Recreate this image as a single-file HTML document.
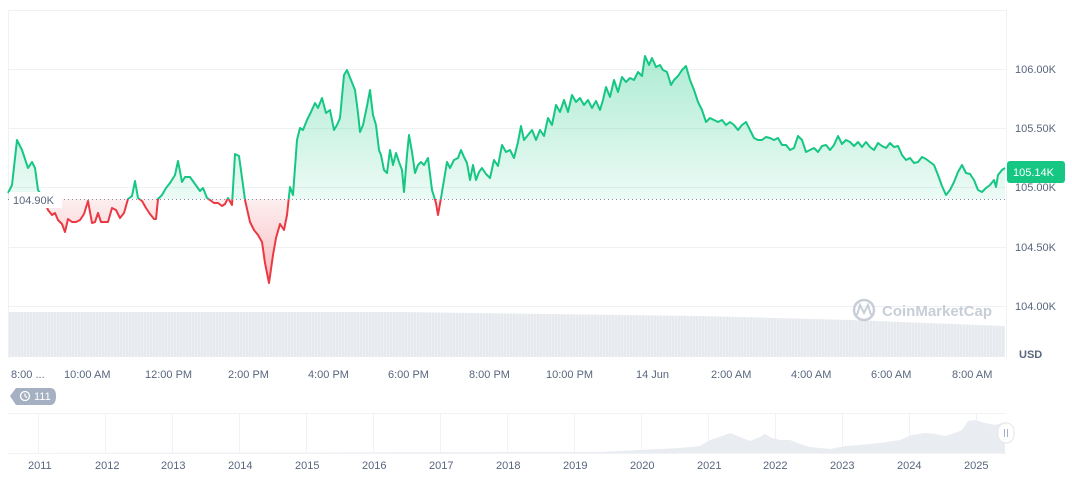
<!DOCTYPE html>
<html><head><meta charset="utf-8"><style>
body{margin:0;background:#fff;width:1072px;height:477px;overflow:hidden;font-family:"Liberation Sans",sans-serif}
svg{position:absolute;left:0;top:0}
</style></head><body>
<svg width="1072" height="477" xmlns="http://www.w3.org/2000/svg" font-family="Liberation Sans, sans-serif">
<defs>
<linearGradient id="gg" x1="0" y1="55" x2="0" y2="199" gradientUnits="userSpaceOnUse"><stop offset="0" stop-color="#16c784" stop-opacity="0.35"/><stop offset="1" stop-color="#16c784" stop-opacity="0.08"/></linearGradient>
<linearGradient id="rg" x1="0" y1="199" x2="0" y2="285" gradientUnits="userSpaceOnUse"><stop offset="0" stop-color="#ea3943" stop-opacity="0.08"/><stop offset="1" stop-color="#ea3943" stop-opacity="0.35"/></linearGradient>
<clipPath id="above"><rect x="0" y="0" width="1072" height="199"/></clipPath>
<clipPath id="below"><rect x="0" y="199" width="1072" height="200"/></clipPath>
<pattern id="vp" width="3" height="10" patternUnits="userSpaceOnUse"><rect width="2" height="10" fill="#e6e9ee"/><rect x="2" width="1" height="10" fill="#eef0f3"/></pattern>
</defs>
<g stroke="#eff2f5" stroke-width="1">
<line x1="8" y1="10.5" x2="1006" y2="10.5"/>
<line x1="8" y1="69.5" x2="1006" y2="69.5"/>
<line x1="8" y1="128.5" x2="1006" y2="128.5"/>
<line x1="8" y1="187.5" x2="1006" y2="187.5"/>
<line x1="8" y1="247.5" x2="1006" y2="247.5"/>
<line x1="8" y1="306.5" x2="1006" y2="306.5"/>
<line x1="8.5" y1="10" x2="8.5" y2="358"/>
<line x1="1006.5" y1="10" x2="1006.5" y2="358"/>
</g>
<polygon points="8,312 400,312 700,316 850,320 1005,326 1005,357 8,357" fill="url(#vp)"/>
<g id="ch"></g>
<line x1="8" y1="199.5" x2="1006" y2="199.5" stroke="#858ca2" stroke-dasharray="1,3" stroke-width="1"/>
<rect x="9" y="192" width="53" height="16" fill="#fff"/>
<text x="13" y="204" font-size="11" fill="#58667e">104.90K</text>
<g font-size="11" fill="#58667e">
<text x="1015" y="73">106.00K</text>
<text x="1015" y="132">105.50K</text>
<text x="1015" y="191">105.00K</text>
<text x="1015" y="251">104.50K</text>
<text x="1015" y="310">104.00K</text>
</g>
<rect x="1007" y="161" width="58" height="22" rx="3" fill="#16c784"/>
<text x="1013" y="176" font-size="11" fill="#fff">105.14K</text>
<text x="1019" y="358" font-size="11" font-weight="bold" fill="#58667e">USD</text>
<g fill="#c3c9d4" opacity="0.9"><circle cx="864" cy="310" r="10" fill="none" stroke="#c3c9d4" stroke-width="2.5"/><path d="M857 315 L860 305 L864 313 L868 305 L871 315" fill="none" stroke="#c3c9d4" stroke-width="2"/><text x="882" y="316" font-size="15" font-weight="bold">CoinMarketCap</text></g>
<g font-size="11" fill="#58667e">
<text x="11" y="378">8:00 ...</text>
<text x="64" y="378">10:00 AM</text>
<text x="145" y="378">12:00 PM</text>
<text x="228" y="378">2:00 PM</text>
<text x="308" y="378">4:00 PM</text>
<text x="388" y="378">6:00 PM</text>
<text x="469" y="378">8:00 PM</text>
<text x="546" y="378">10:00 PM</text>
<text x="636" y="378">14 Jun</text>
<text x="711" y="378">2:00 AM</text>
<text x="791" y="378">4:00 AM</text>
<text x="871" y="378">6:00 AM</text>
<text x="952" y="378">8:00 AM</text>
</g>
<path d="M10 396 L16 388 L50 388 Q56 388 56 396 Q56 405 50 405 L16 405 Z" fill="#a6b0c3"/>
<circle cx="25" cy="396" r="4.5" fill="none" stroke="#fff" stroke-width="1.3"/><path d="M25 393.5 V396 L27 397.5" stroke="#fff" fill="none" stroke-width="1.2"/>
<text x="34" y="400" font-size="11" fill="#fff">111</text>
<g stroke="#f0f2f5"><line x1="8" y1="413.5" x2="1006" y2="413.5"/><line x1="8" y1="453.5" x2="1006" y2="453.5"/>
<line x1="38.5" y1="413" x2="38.5" y2="453"/><line x1="105.5" y1="413" x2="105.5" y2="453"/><line x1="172.5" y1="413" x2="172.5" y2="453"/><line x1="239.5" y1="413" x2="239.5" y2="453"/><line x1="306.5" y1="413" x2="306.5" y2="453"/><line x1="373.5" y1="413" x2="373.5" y2="453"/><line x1="440.5" y1="413" x2="440.5" y2="453"/><line x1="507.5" y1="413" x2="507.5" y2="453"/><line x1="574.5" y1="413" x2="574.5" y2="453"/><line x1="641.5" y1="413" x2="641.5" y2="453"/><line x1="708.5" y1="413" x2="708.5" y2="453"/><line x1="775.5" y1="413" x2="775.5" y2="453"/><line x1="842.5" y1="413" x2="842.5" y2="453"/><line x1="909.5" y1="413" x2="909.5" y2="453"/><line x1="976.5" y1="413" x2="976.5" y2="453"/></g>
<polygon points="8,453 600,452 640,450 680,448 700,446 710,440 722,436 730,433 740,437 750,441 760,437 765,434 772,438 780,440 790,440 800,444 810,447 830,449 845,446 860,445 880,443 900,440 912,435 925,433 935,434 945,436 955,433 962,430 968,421 975,420 985,423 995,425 1005,422 1005,453" fill="#e9ecf1"/>
<rect x="998" y="423" width="16" height="20" rx="8" fill="#fff" stroke="#e3e6eb"/>
<line x1="1004.5" y1="429" x2="1004.5" y2="437" stroke="#a6b0c3"/><line x1="1007.5" y1="429" x2="1007.5" y2="437" stroke="#a6b0c3"/>
<g font-size="11" fill="#58667e">
<text x="28" y="469">2011</text><text x="95" y="469">2012</text><text x="161" y="469">2013</text><text x="228" y="469">2014</text><text x="295" y="469">2015</text><text x="362" y="469">2016</text><text x="429" y="469">2017</text><text x="496" y="469">2018</text><text x="563" y="469">2019</text><text x="630" y="469">2020</text><text x="697" y="469">2021</text><text x="763" y="469">2022</text><text x="830" y="469">2023</text><text x="897" y="469">2024</text><text x="964" y="469">2025</text>
</g>
</svg>
<script>
var p=[8,193,12,185,17,140,22,150,28,168,32,162,35,168,38,190,44,199,48,210,52,215,55,213,58,220,62,224,65,232,68,219,72,222,76,222,80,220,84,214,88,201,92,223,95,222,98,213,101,222,108,222,112,208,116,210,120,218,124,213,128,199,132,196,135,181,138,198,142,201,146,208,150,214,154,219,156,219,158,199,162,195,166,188,170,183,175,175,178,161,182,182,185,177,190,177,195,184,200,191,203,188,207,198,210,200,214,203,218,203,222,206,225,204,228,198,232,205,235,154,239,156,243,185,245,200,250,222,254,230,258,235,262,242,265,263,269,283,273,255,276,238,280,224,284,230,287,215,290,187,293,195,297,140,300,128,303,130,307,120,311,112,315,103,318,108,322,98,326,113,330,110,334,130,337,125,340,118,344,75,347,70,351,80,355,90,358,113,360,132,363,125,367,106,370,90,373,115,376,125,379,150,381,155,384,170,387,173,390,150,393,165,396,153,399,162,402,170,404,192,407,155,409,135,412,152,415,173,418,165,421,162,424,165,428,158,432,190,436,203,438,215,441,198,444,180,447,162,450,168,454,160,458,158,461,150,464,157,467,163,470,180,473,165,476,180,479,172,482,168,486,174,490,178,494,160,498,166,502,145,506,152,510,150,514,158,518,142,521,126,524,140,528,135,532,130,536,140,540,130,544,136,548,118,552,125,556,105,560,112,564,100,568,112,572,95,576,102,580,98,584,105,588,100,592,108,596,101,600,110,603,100,606,87,610,97,614,80,618,92,622,77,626,82,630,78,634,80,638,72,642,76,645,56,649,65,652,58,656,67,660,65,663,70,667,72,671,85,674,80,678,76,682,70,686,66,690,80,694,90,698,102,702,110,706,122,710,118,714,120,718,122,722,120,726,125,730,122,734,125,738,130,742,125,746,122,750,130,754,138,758,140,762,140,766,137,770,138,774,140,778,138,782,145,786,145,790,150,794,148,798,136,802,140,806,152,810,150,814,148,818,152,822,146,826,145,830,150,834,145,838,136,842,144,846,140,850,142,854,146,858,142,862,147,866,142,870,147,874,150,878,143,882,146,886,148,890,143,894,147,898,146,902,155,906,160,910,158,914,163,918,162,922,157,926,159,930,162,934,165,938,175,942,186,946,195,950,190,954,182,958,172,962,165,966,173,970,174,974,180,978,190,982,192,986,188,990,185,994,180,996,187,998,175,1002,170,1005,168];
var d="M";for(var i=0;i<p.length;i+=2){d+=(i?" L":"")+p[i]+" "+p[i+1];}
var area=d+" L1005 199 L8 199 Z";
var g=document.getElementById("ch");
g.innerHTML='<path d="'+area+'" fill="url(#gg)" clip-path="url(#above)"/><path d="'+area+'" fill="url(#rg)" clip-path="url(#below)"/><path d="'+d+'" fill="none" stroke="#16c784" stroke-width="2" stroke-linejoin="round" clip-path="url(#above)"/><path d="'+d+'" fill="none" stroke="#ea3943" stroke-width="2" stroke-linejoin="round" clip-path="url(#below)"/>';
</script>
</body></html>
